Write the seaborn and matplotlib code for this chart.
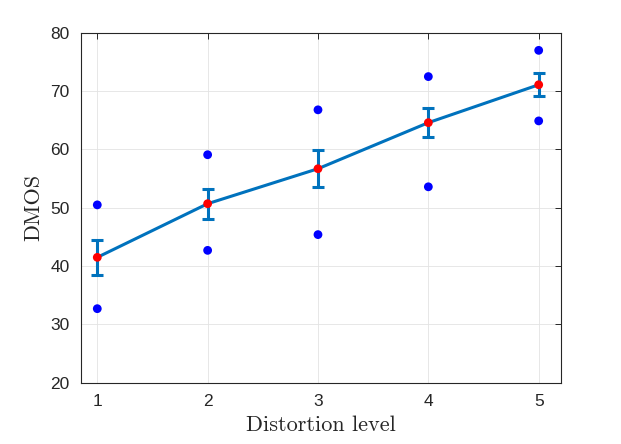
import numpy as np
import pandas as pd
import seaborn as sns
import matplotlib.pyplot as plt

levels = [1, 2, 3, 4, 5]
dmos_mean = [41.5, 50.7, 56.7, 64.6, 71.1]
dmos_err = [2.95, 2.6, 3.15, 2.5, 1.95]
dmos_high = [50.5, 59.1, 66.8, 72.5, 77.0]
dmos_low = [32.7, 42.7, 45.4, 53.6, 64.9]

LINE_BLUE = '#0072BD'

sns.set_style('white')
plt.rcParams['font.family'] = ['Liberation Sans', 'DejaVu Sans']

df = pd.DataFrame({'level': levels, 'mean': dmos_mean})
pts = pd.DataFrame({'level': levels * 2, 'dmos': dmos_high + dmos_low})

fig = plt.figure(figsize=(6.21, 4.44), dpi=100)
ax = fig.add_axes([0.130, 0.138, 0.773, 0.788])

sns.lineplot(data=df, x='level', y='mean', color=LINE_BLUE, linewidth=2.2, ax=ax, zorder=3)
ax.errorbar(levels, dmos_mean, yerr=dmos_err, fmt='none', ecolor=LINE_BLUE,
            elinewidth=2.2, capsize=4.5, capthick=2.2, zorder=3)
sns.scatterplot(data=pts, x='level', y='dmos', color='blue', s=40,
                edgecolor='none', ax=ax, zorder=4)
sns.scatterplot(data=df, x='level', y='mean', color='red', s=40,
                edgecolor='none', ax=ax, zorder=5)

ax.set_xlim(0.85, 5.2)
ax.set_ylim(20, 80)
ax.set_xticks(levels)
ax.set_yticks(np.arange(20, 81, 10))
ax.grid(True, color='#e3e3e3', linewidth=0.6)
ax.set_axisbelow(True)
for s in ax.spines.values():
    s.set_color('#262626')
    s.set_linewidth(0.8)
ax.tick_params(direction='in', length=4, width=0.7, color='#262626',
               labelsize=12.5, labelcolor='#262626', top=True, right=True, pad=8)

ax.set_xlabel('Distortion level', family='cmr10', fontsize=16, color='#262626', labelpad=5)
ax.set_ylabel('DMOS', family='cmr10', fontsize=16, color='#262626', labelpad=5)

fig.savefig('out.png', dpi=100)
